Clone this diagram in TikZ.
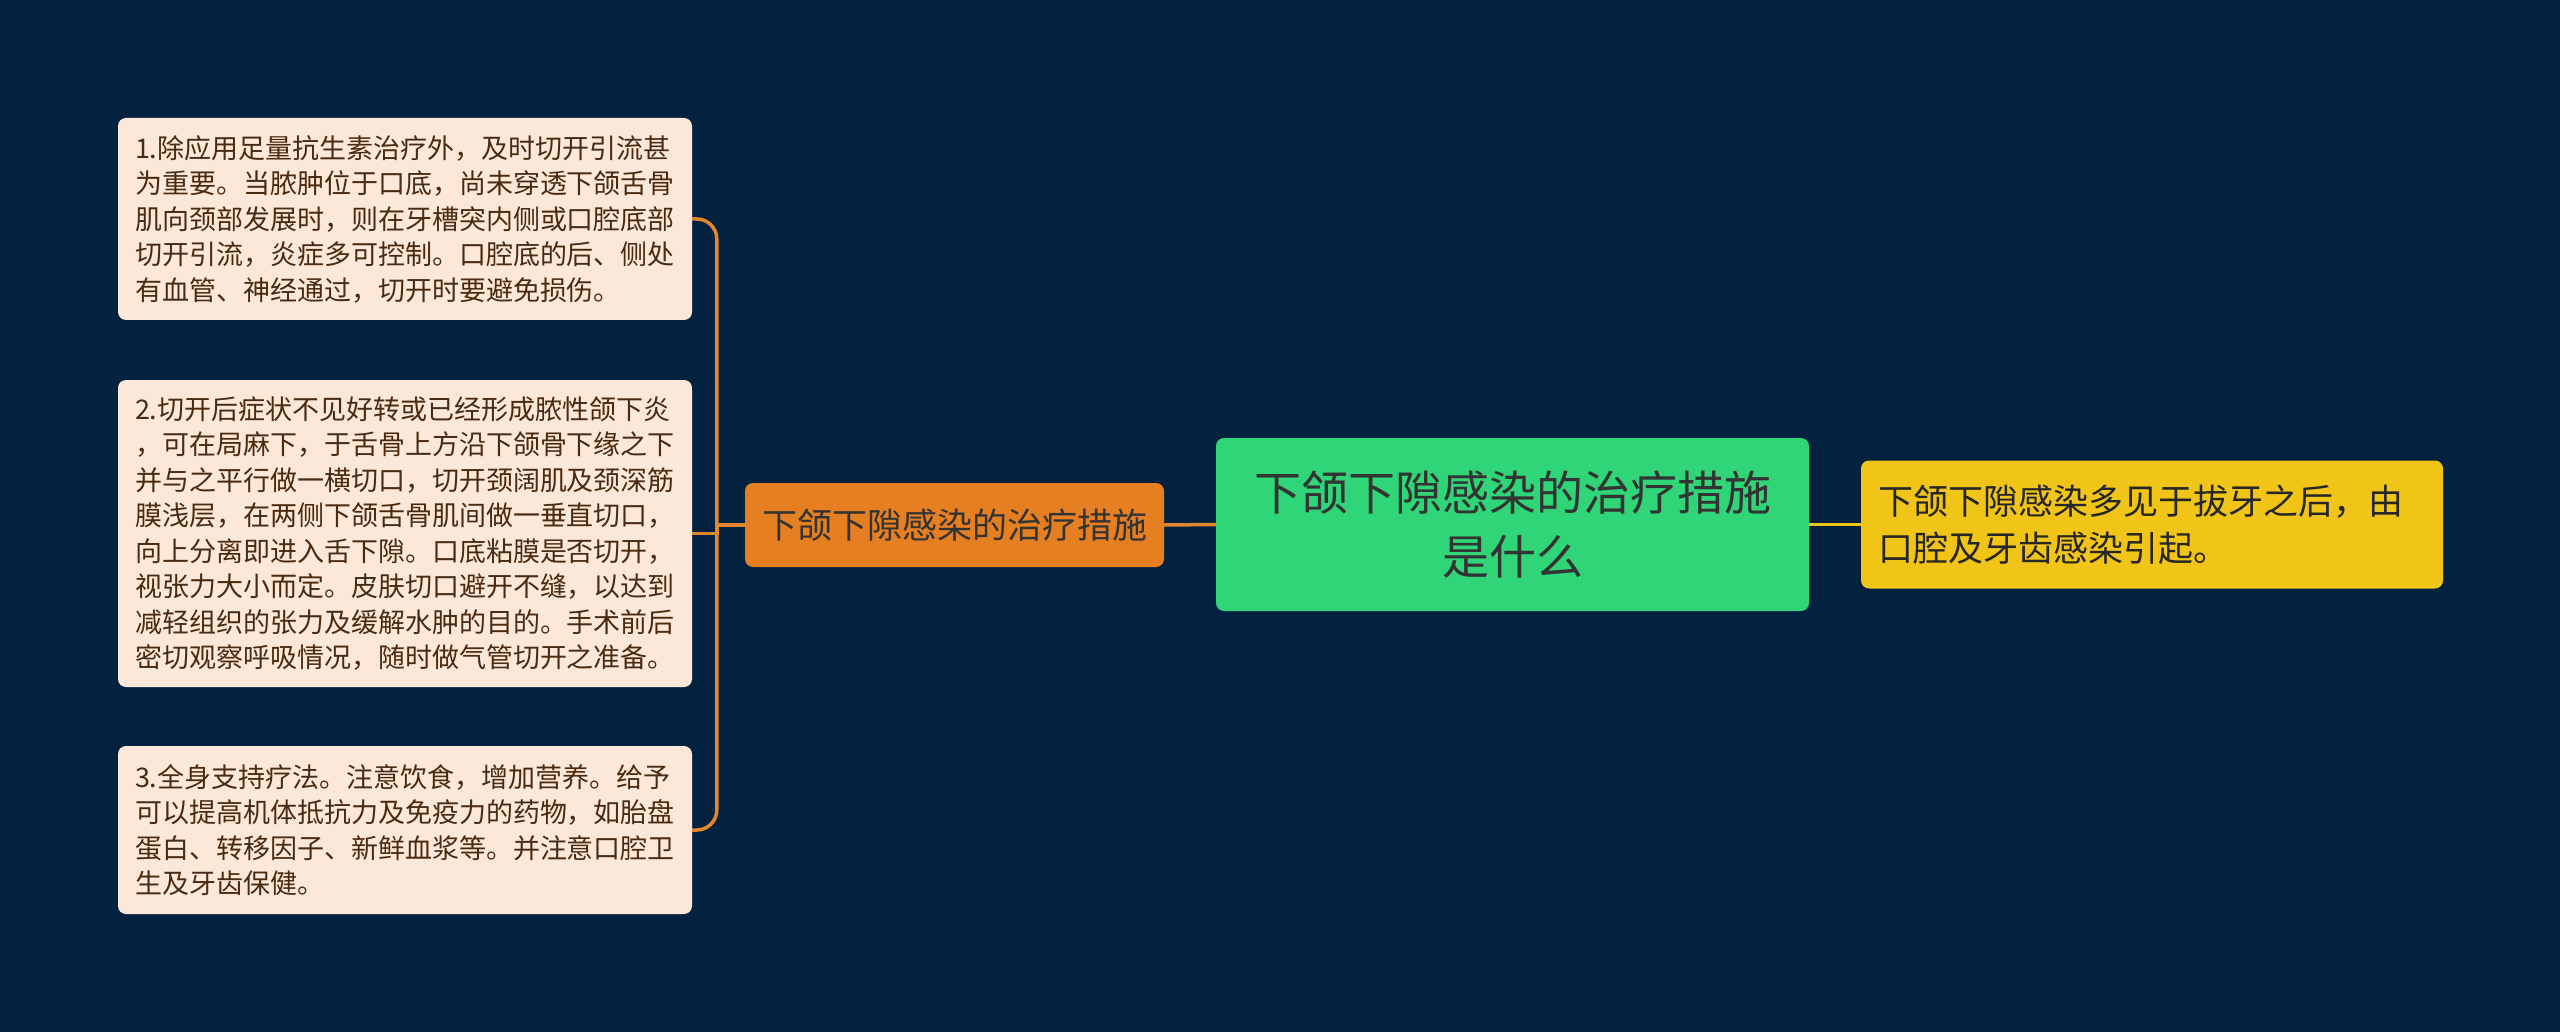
\documentclass[tikz,border=0pt]{standalone}
\usepackage{fontspec}
\setmainfont{Noto Sans CJK SC}
\definecolor{bgcol}{RGB}{3,34,63}
\definecolor{notefill}{RGB}{252,232,216}
\definecolor{notetext}{RGB}{74,42,16}
\definecolor{subfill}{RGB}{229,127,34}
\definecolor{rootfill}{RGB}{47,213,118}
\definecolor{leaffill}{RGB}{241,196,24}
\definecolor{linecol}{RGB}{226,135,48}
\begin{document}
\begin{tikzpicture}[x=1pt,y=-1pt,
  note/.style={fill=notefill,text=notetext,rounded corners=8pt,inner xsep=13pt,inner ysep=0pt,
    minimum width=574pt,align=left,font=\fontsize{27}{35.5}\selectfont},
  subnode/.style={fill=subfill,text=black!80,rounded corners=8pt,minimum width=419pt,minimum height=84pt,
    inner sep=0pt,font=\fontsize{35}{42}\selectfont},
  rootnode/.style={fill=rootfill,text=black!80,rounded corners=8pt,minimum width=593pt,minimum height=173pt,
    inner sep=0pt,align=center,font=\fontsize{47}{64}\selectfont},
  leafnode/.style={fill=leaffill,text=black!85,rounded corners=8pt,text width=548pt,inner xsep=17pt,
    minimum height=128pt,inner ysep=0pt,align=left,font=\fontsize{35}{47}\selectfont},
  conn/.style={draw=linecol,line width=3.5pt}]
\path[fill=bgcol] (0,0) rectangle (2560,1032);

%center
\node[rootnode] (root) at (1512.5,524.5){下颌下隙感染的治疗措施\\是什么};
\node[subnode] (sub) at (954.5,525){下颌下隙感染的治疗措施};
\node[leafnode] (leaf) at (2152,524.5){下颌下隙感染多见于拔牙之后，由\\口腔及牙齿感染引起。};

%notes
\foreach \n/\y/\h/\t in {
  b1/219/202/{1.除应用足量抗生素治疗外，及时切开引流甚\\为重要。当脓肿位于口底，尚未穿透下颌舌骨\\肌向颈部发展时，则在牙槽突内侧或口腔底部\\切开引流，炎症多可控制。口腔底的后、侧处\\有血管、神经通过，切开时要避免损伤。},
  b2/533.5/307/{2.切开后症状不见好转或已经形成脓性颌下炎\\，可在局麻下，于舌骨上方沿下颌骨下缘之下\\并与之平行做一横切口，切开颈阔肌及颈深筋\\膜浅层，在两侧下颌舌骨肌间做一垂直切口，\\向上分离即进入舌下隙。口底粘膜是否切开，\\视张力大小而定。皮肤切口避开不缝，以达到\\减轻组织的张力及缓解水肿的目的。手术前后\\密切观察呼吸情况，随时做气管切开之准备。},
  b3/830/168/{3.全身支持疗法。注意饮食，增加营养。给予\\可以提高机体抵抗力及免疫力的药物，如胎盘\\蛋白、转移因子、新鲜血浆等。并注意口腔卫\\生及牙齿保健。}}{
    \node[note,minimum height=\h pt] (\n) at (405,\y){\t};
}

%lines
\draw[conn] (root.west) -- (sub.east);
\draw[conn,draw=leaffill] (root.east) -- (leaf.west);
\coordinate (trunk) at ([xshift=-28pt]sub.west);
\draw[conn] (sub.west) -- (trunk);
\foreach \n in {b1,b3}{
    \draw[conn,rounded corners=20pt] (trunk) |- (\n.east);
}
\draw[conn] (trunk) |- (b2.east);
\end{tikzpicture}
\end{document}
